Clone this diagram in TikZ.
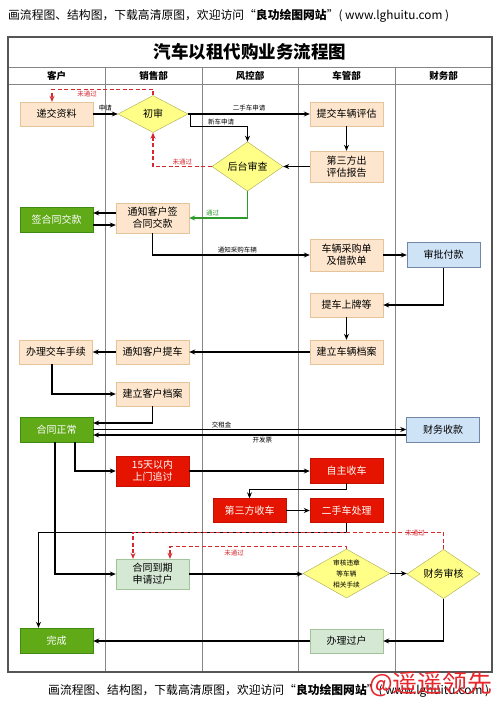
\documentclass[tikz,border=0pt]{standalone}
\usepackage{fontspec}
\setmainfont{Noto Sans CJK SC}
\usetikzlibrary{shapes.geometric,arrows.meta,calc}
\definecolor{peachf}{HTML}{FDE6CD}
\definecolor{peachd}{HTML}{E6C49A}
\definecolor{greenf}{HTML}{60A917}
\definecolor{greend}{HTML}{3F8A10}
\definecolor{redf}{HTML}{E51400}
\definecolor{redd}{HTML}{C51000}
\definecolor{yelf}{HTML}{FFFF88}
\definecolor{yeld}{HTML}{A8A850}
\definecolor{bluef}{HTML}{CFE3F7}
\definecolor{blued}{HTML}{7088A6}
\definecolor{lgf}{HTML}{D5E8D4}
\definecolor{lgd}{HTML}{A3C49A}
\definecolor{lanec}{HTML}{858585}
\definecolor{framec}{HTML}{555555}
\definecolor{dashred}{HTML}{D42A2F}
\definecolor{okgreen}{HTML}{2E9A2E}
\definecolor{wmred}{HTML}{E8262B}
\newcommand{\nf}{\fontsize{10}{12}\selectfont}
\newcommand{\lf}{\fontsize{6.5}{8}\selectfont}
\begin{document}
\begin{tikzpicture}[x=1pt,y=-1pt,
  basebox/.style={minimum width=73pt,minimum height=24pt,inner sep=1pt,align=center,font=\nf},
  peach/.style={basebox,draw=peachd,fill=peachf},
  greenbox/.style={basebox,draw=greend,fill=greenf,text=white},
  redbox/.style={basebox,draw=redd,fill=redf,text=white},
  bluebox/.style={basebox,draw=blued,fill=bluef},
  lgbox/.style={basebox,draw=lgd,fill=lgf},
  yeldia/.style={diamond,draw=yeld,fill=yelf,inner sep=0pt,align=center,font=\nf},
  lbl/.style={font=\lf,inner sep=1pt},
  rlbl/.style={lbl,text=dashred},
  glbl/.style={lbl,text=okgreen},
  arr/.style={-{Stealth[length=6pt,width=5pt]},line width=1.2pt,black},
  garr/.style={-{Stealth[length=6pt,width=5pt]},line width=1.2pt,okgreen},
  rarr/.style={-{Stealth[length=6pt,width=5pt]},line width=1.1pt,dashred,dash pattern=on 4pt off 2.5pt},
  lane/.style={draw=lanec,line width=0.9pt},
  hdr/.style={font=\fontsize{9.5}{11}\selectfont\bfseries,inner sep=0pt},
  capt/.style={font=\fontsize{11.8}{14}\selectfont,inner sep=0pt,anchor=west}
]
\useasboundingbox (0,0) rectangle (500,707);
\fill[white] (0,0) rectangle (500,707);

% captions
\node[capt] (cap1) at (8,16) {画流程图、结构图，下载高清原图，欢迎访问“\textbf{良功绘图网站}”( www.lghuitu.com )};
\node[capt] (cap2) at (48,691) {画流程图、结构图，下载高清原图，欢迎访问“\textbf{良功绘图网站}”( www.lghuitu.com )};

% frame and lanes
\draw[lane] (8,67) -- (492,67);
\draw[lane] (8,84) -- (492,84);
\foreach \xx in {105,202,298,395} \draw[lane] (\xx,67) -- (\xx,672);
\draw[draw=framec,line width=1.2pt] (8,37) rectangle (492,672);
\node[font=\fontsize{17.5}{20}\selectfont\bfseries,inner sep=0pt] (title) at (250,52) {汽车以租代购业务流程图};
\node[hdr] (h1) at (56.5,75.5) {客户};
\node[hdr] (h2) at (153.5,75.5) {销售部};
\node[hdr] (h3) at (250,75.5) {风控部};
\node[hdr] (h4) at (346.5,75.5) {车管部};
\node[hdr] (h5) at (443.5,75.5) {财务部};

% nodes
\node[peach] (dj) at (56.5,114) {递交资料};
\node[yeldia,minimum width=70pt,minimum height=37pt] (cs) at (153,114) {初审};
\node[peach] (tj) at (346.5,114) {提交车辆评估};
\node[peach,minimum height=31pt] (ds) at (346.5,166.5) {第三方出\\评估报告};
\node[yeldia,minimum width=71pt,minimum height=37pt] (ht) at (247.5,166.5) {后台审查};
\node[greenbox,minimum height=25pt] (qh) at (56.5,219.5) {签合同交款};
\node[peach,minimum height=30pt] (tz) at (152.5,218) {通知客户签\\合同交款};
\node[peach,minimum height=32pt] (cg) at (346.5,255) {车辆采购单\\及借款单};
\node[bluebox,minimum height=25pt] (sp) at (443.5,255) {审批付款};
\node[peach] (tc) at (346.5,305) {提车上牌等};
\node[peach] (jc) at (346.5,352) {建立车辆档案};
\node[peach] (bj) at (56,352) {办理交车手续};
\node[peach] (tk) at (152.5,352) {通知客户提车};
\node[peach] (jk) at (152.5,394) {建立客户档案};
\node[greenbox,minimum height=25pt] (hz) at (56.5,429.5) {合同正常};
\node[bluebox,minimum height=25pt] (cw) at (443,429.5) {财务收款};
\node[redbox,minimum height=30pt] (zt) at (152.5,471) {15天以内\\上门追讨};
\node[redbox,minimum height=25pt] (zs) at (346.5,470.5) {自主收车};
\node[redbox] (dsf) at (249.5,510.5) {第三方收车};
\node[redbox] (es) at (346.5,510.5) {二手车处理};
\node[lgbox,minimum height=30pt] (dq) at (152.5,574) {合同到期\\申请过户};
\node[yeldia,minimum width=87pt,minimum height=49pt,aspect=1.78,font=\fontsize{6.7}{11}\selectfont] (wz) at (346.5,573.5) {审核违章\\等车辆\\相关手续};
\node[yeldia,minimum width=73pt,minimum height=36pt] (cwsh) at (443.5,574) {财务审核};
\node[lgbox] (bg) at (346.5,641) {办理过户};
\node[greenbox,minimum height=25pt] (wc) at (56.5,640.5) {完成};

% connectors
\draw[arr] (dj) -- node[lbl,above,yshift=1pt] (l1) {申请} (cs);
\draw[arr] (cs) -- node[lbl,above,yshift=1pt] (l2) {二手车申请} (tj);
\draw[arr] (cs.east) -- ++(2,0) |- node[lbl,pos=0.77,above] (l3) {新车申请} ($(ht.north)+(0,-15)$) -- (ht.north);
\draw[rarr] (ht.west) -| node[rlbl,pos=0.25,above] (l4) {未通过} (cs.south);
\draw[rarr] (cs.north) -- ++(0,-6) -| ([xshift=-4.5pt]dj.north);
\node[rlbl] (l5) at (87,94.5) {未通过};
\draw[arr] (tj) -- (ds);
\draw[arr] (ds) -- (ht);
\draw[garr] (ht.south) |- node[glbl,pos=0.8,above] (l6) {通过} (tz.east);
\draw[arr] ([yshift=5pt]tz.west) -- ([yshift=5pt]tz.west -| qh.east);
\draw[arr] ([yshift=-7pt]tz.west -| qh.east) -- ([yshift=-7pt]tz.west);
\draw[arr] (tz.south) |- node[lbl,pos=0.77,above] (l7) {通知采购车辆} (cg.west);
\draw[arr] (cg.east) -- (cg.east -| sp.west);
\draw[arr] (sp.south) |- (tc.east);
\draw[arr] (tc) -- (jc);
\draw[arr] (jc) -- (tk);
\draw[arr] (tk) -- (bj);
\draw[arr] ([xshift=-4pt]bj.south) |- (jk.west);
\draw[arr] (jk.south) |- ([yshift=6.5pt]hz.east);
\draw[arr] (hz.east) -- node[lbl,pos=0.41,above] (l8) {交租金} (hz.east -| cw.west);
\draw[arr] ([yshift=-5.5pt]cw.west) -- node[lbl,pos=0.46,below] (l9) {开发票} ([yshift=-5.5pt]cw.west -| hz.east);
\draw[arr] ([xshift=18.5pt]hz.south) |- (zt.west);
\draw[arr] (zt.east) -- (zt.east -| zs.west);
\draw[arr] (zs.south) -- ++(0,6) -| (dsf.north);
\draw[arr] (dsf) -- (es);
\draw[arr] (es.south) -- ++(0,10) -| ([xshift=-18pt]wc.north);
\draw[arr] ([xshift=-1.5pt]hz.south) |- (dq.west);
\draw[arr] (dq.east) -- (dq.east -| wz.west);
\draw[arr] (wz.east) -- (wz.east -| cwsh.west);
\draw[arr] (cwsh.south) |- (bg.east);
\draw[arr] (bg.west) -- (bg.west -| wc.east);
\draw[rarr] (wz.north) -- ++(0,-2) -| ([xshift=17.5pt]dq.north);
\node[rlbl] (l10) at (234,553.5) {未通过};
\draw[rarr] (cwsh.north) -- ++(0,-17) -| ([xshift=-19.5pt]dq.north);
\node[rlbl] (l11) at (415,533) {未通过};

% watermark
\node[text=wmred,font=\fontsize{25}{26}\selectfont,inner sep=0pt] (wm) at (431,684) {@遥遥领先};
\end{tikzpicture}
\end{document}
